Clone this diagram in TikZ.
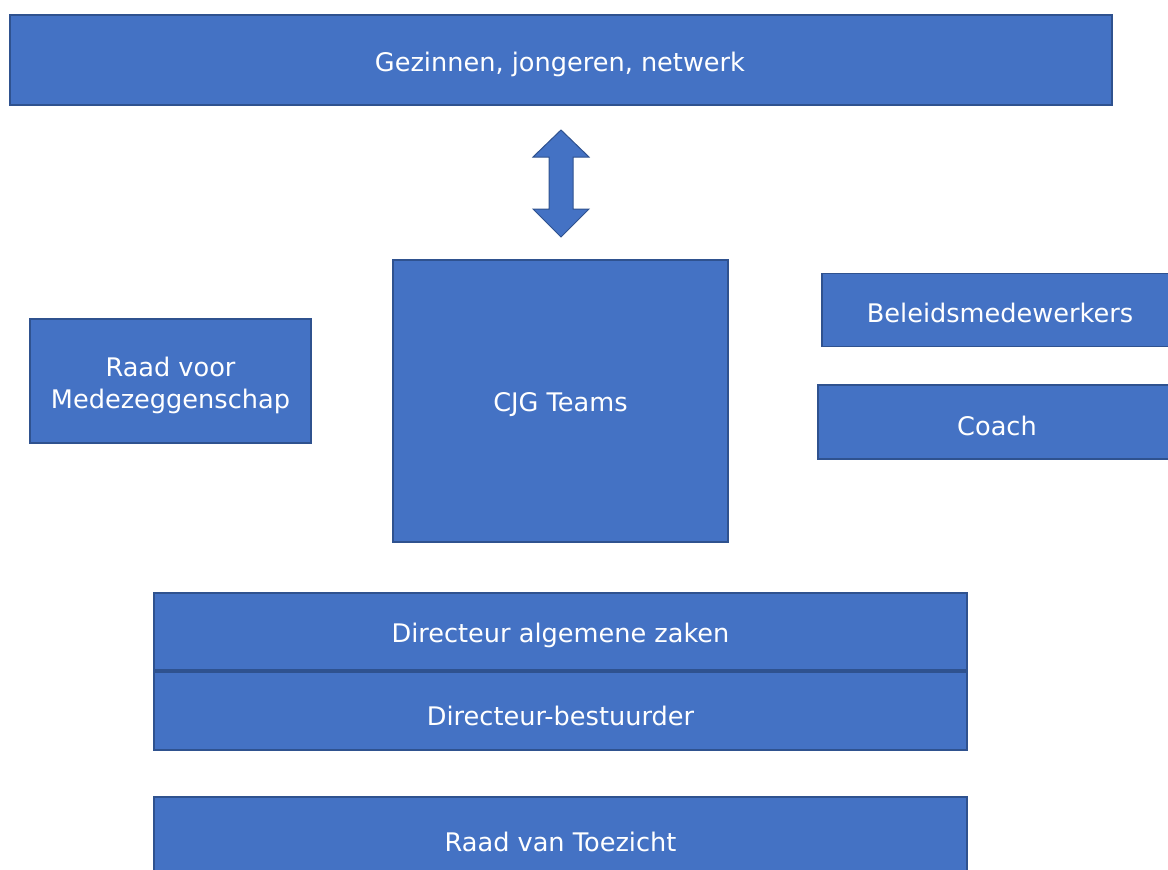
\documentclass[tikz,border=0pt]{standalone}
\usepackage{fontspec}
\setmainfont{DejaVu Sans}
\definecolor{boxfill}{HTML}{4472C4}
\definecolor{boxline}{HTML}{2F528F}
\begin{document}
\begin{tikzpicture}[x=1pt,y=-1pt,
  box/.style={draw=boxline, line width=1.5pt, fill=boxfill, text=white,
    font=\fontsize{26}{32}\selectfont, align=center, inner sep=0pt},
  lbl/.style={text=white, font=\fontsize{25.6}{32}\selectfont, align=center, inner sep=0pt}]
\useasboundingbox (0,0) rectangle (1168,870);
\clip (0,0) rectangle (1168,870);
\node[box, minimum width=1102pt, minimum height=90pt] (top) at (561,60) {};
\node[lbl] (topt) at (560,64) {Gezinnen, jongeren, netwerk};
\node[box, minimum width=335pt, minimum height=282pt] (cjg) at (560.5,401) {};
\node[lbl] (cjgt) at (560.5,405) {CJG Teams};
\node[box, minimum width=281pt, minimum height=124pt] (raad) at (170.5,381) {};
\node[lbl] (raadt) at (170.5,385) {Raad voor\\Medezeggenschap};
\node[box, minimum width=360pt, minimum height=73pt, anchor=west] (bel) at (821,310) {};
\node[lbl] (belt) at (1000,313) {Beleidsmedewerkers};
\node[box, minimum width=364pt, minimum height=74pt, anchor=west] (coach) at (817,422) {};
\node[lbl] (coacht) at (997,426) {Coach};
\node[box, minimum width=813pt, minimum height=77pt] (dir) at (560.5,631.5) {};
\node[lbl] (dirt) at (560.5,635.5) {Directeur algemene zaken};
\node[box, minimum width=813pt, minimum height=78pt] (bes) at (560.5,711) {};
\node[lbl] (best) at (560.5,716) {Directeur-bestuurder};
\node[box, minimum width=813pt, minimum height=90pt] (rvt) at (560.5,842) {};
\node[lbl] (rvtt) at (560.5,841.5) {Raad van Toezicht};
% double block arrow between top and cjg
\coordinate (atip) at (561,130);
\coordinate (btip) at (561,237);
\draw[draw=boxline, line width=1pt, fill=boxfill]
  (atip) -- ++(28,27) -- ++(-16,0) -- ++(0,52) -- ++(16,0) -- (btip)
  -- ++(-28,-28) -- ++(16,0) -- ++(0,-52) -- ++(-16,0) -- cycle;
\end{tikzpicture}
\end{document}
